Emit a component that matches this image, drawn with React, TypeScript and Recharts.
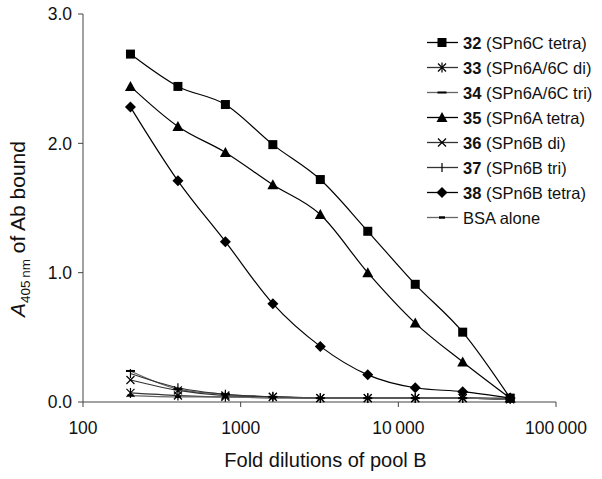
import React from 'react';
import { LineChart, Line, XAxis, YAxis, Label } from 'recharts';

const dilutions = [200, 400, 800, 1600, 3200, 6400, 12800, 25600, 51200];
const s32 = [2.69, 2.44, 2.3, 1.99, 1.72, 1.32, 0.91, 0.54, 0.03];
const s33 = [0.07, 0.05, 0.04, 0.04, 0.03, 0.03, 0.03, 0.03, 0.03];
const s34 = [0.24, 0.1, 0.06, 0.04, 0.03, 0.03, 0.03, 0.03, 0.02];
const s35 = [2.44, 2.13, 1.93, 1.68, 1.45, 1.0, 0.61, 0.31, 0.03];
const s36 = [0.17, 0.09, 0.05, 0.04, 0.03, 0.03, 0.03, 0.03, 0.02];
const s37 = [0.22, 0.11, 0.06, 0.04, 0.03, 0.03, 0.03, 0.03, 0.02];
const s38 = [2.28, 1.71, 1.24, 0.76, 0.43, 0.21, 0.11, 0.08, 0.03];
const sBSA = [0.05, 0.04, 0.04, 0.03, 0.03, 0.03, 0.03, 0.03, 0.02];
const xTicks = [100, 1000, 10000, 100000];
const yTicks = [0, 1, 2, 3];

const data = dilutions.map((d, i) => ({
  x: d, s32: s32[i], s33: s33[i], s34: s34[i], s35: s35[i],
  s36: s36[i], s37: s37[i], s38: s38[i], sBSA: sBSA[i],
}));

type Shape = 'square' | 'asterisk' | 'dash' | 'triangle' | 'cross' | 'plus' | 'diamond' | 'smalldash';

const marker = (shape: Shape, cx: number, cy: number, key?: any) => {
  const c = '#000';
  switch (shape) {
    case 'square':
      return <rect key={key} x={cx - 4.5} y={cy - 4.5} width={9} height={9} fill={c} />;
    case 'triangle':
      return <polygon key={key} points={`${cx},${cy - 5.5} ${cx + 5.5},${cy + 4.5} ${cx - 5.5},${cy + 4.5}`} fill={c} />;
    case 'diamond':
      return <polygon key={key} points={`${cx},${cy - 5.5} ${cx + 5.5},${cy} ${cx},${cy + 5.5} ${cx - 5.5},${cy}`} fill={c} />;
    case 'asterisk':
      return (
        <g key={key} stroke={c} strokeWidth={1.2}>
          <line x1={cx - 4} y1={cy - 4} x2={cx + 4} y2={cy + 4} />
          <line x1={cx - 4} y1={cy + 4} x2={cx + 4} y2={cy - 4} />
          <line x1={cx} y1={cy - 5} x2={cx} y2={cy + 5} />
        </g>
      );
    case 'cross':
      return (
        <g key={key} stroke={c} strokeWidth={1.2}>
          <line x1={cx - 4} y1={cy - 4} x2={cx + 4} y2={cy + 4} />
          <line x1={cx - 4} y1={cy + 4} x2={cx + 4} y2={cy - 4} />
        </g>
      );
    case 'plus':
      return (
        <g key={key} stroke={c} strokeWidth={1.2}>
          <line x1={cx} y1={cy - 4.5} x2={cx} y2={cy + 4.5} />
        </g>
      );
    case 'dash':
      return <rect key={key} x={cx - 4.5} y={cy - 1} width={9} height={2} fill={c} />;
    case 'smalldash':
      return <rect key={key} x={cx - 3} y={cy - 1.2} width={6} height={2.4} fill={c} />;
  }
  return null;
};

const series: { key: string; num: string; text: string; shape: Shape; stroke: string }[] = [
  { key: 's32', num: '32', text: ' (SPn6C tetra)', shape: 'square', stroke: '#000' },
  { key: 's33', num: '33', text: ' (SPn6A/6C di)', shape: 'asterisk', stroke: '#333' },
  { key: 's34', num: '34', text: ' (SPn6A/6C tri)', shape: 'dash', stroke: '#666' },
  { key: 's35', num: '35', text: ' (SPn6A tetra)', shape: 'triangle', stroke: '#000' },
  { key: 's36', num: '36', text: ' (SPn6B di)', shape: 'cross', stroke: '#333' },
  { key: 's37', num: '37', text: ' (SPn6B tri)', shape: 'plus', stroke: '#333' },
  { key: 's38', num: '38', text: ' (SPn6B tetra)', shape: 'diamond', stroke: '#000' },
  { key: 'sBSA', num: '', text: 'BSA alone', shape: 'smalldash', stroke: '#666' },
];

const font = '"Liberation Sans", Arial, sans-serif';

const LegendBox = () => (
  <svg width={182} height={205} style={{ display: 'block', position: 'absolute', left: 420, top: 30 }}>
    {series.map((s, i) => {
      const cy = 12.5 + i * 25;
      return (
        <g key={s.key}>
          <line x1={7} y1={cy} x2={38} y2={cy} stroke={s.stroke} strokeWidth={1.3} />
          {marker(s.shape, 22, cy)}
          <text x={43} y={cy + 6} fontFamily={font} fontSize={16.5} fill="#111">
            {s.num ? <tspan fontWeight="bold">{s.num}</tspan> : null}
            <tspan>{s.text}</tspan>
          </text>
        </g>
      );
    })}
  </svg>
);

const fmtX = (v: number) => {
  if (v >= 10000) return String(v).replace(/(\d)(?=(\d{3})+$)/g, '$1\u2009');
  return String(v);
};

const YLabel = () => (
  <text
    x={25}
    y={229}
    transform="rotate(-90, 25, 229)"
    textAnchor="middle"
    fontFamily={font}
    fontSize={21}
    fill="#111"
  >
    <tspan fontStyle="italic">A</tspan>
    <tspan fontSize={13.5} dy={5}>405{'\u2009'}nm</tspan>
    <tspan dy={-5}> of Ab bound</tspan>
  </text>
);

export default function App() {
  return (
    <div style={{ position: 'absolute', left: 0, top: 0, width: 602, height: 479, background: '#fff' }}>
      <LineChart
        width={602}
        height={479}
        data={data}
        margin={{ top: 14, right: 46, left: 0, bottom: 0 }}
      >
        <XAxis
          dataKey="x"
          type="number"
          scale="log"
          domain={[100, 100000]}
          ticks={xTicks}
          tickFormatter={fmtX}
          allowDataOverflow
          height={77}
          stroke="#444"
          tickSize={5}
          tickMargin={15}
          tick={{ fill: '#111', fontSize: 17.5, fontFamily: font }}
        >
          <Label
            value="Fold dilutions of pool B"
            position="insideBottom"
            offset={12}
            dx={6}
            style={{ fill: '#111', fontSize: 20, fontFamily: font }}
          />
        </XAxis>
        <YAxis
          type="number"
          domain={[0, 3]}
          ticks={yTicks}
          tickFormatter={(v: number) => v.toFixed(1)}
          width={83}
          stroke="#444"
          tickSize={5}
          tickMargin={6}
          tick={{ fill: '#111', fontSize: 17.5, fontFamily: font }}
          label={<YLabel />}
        />
        {series.map((s) => (
          <Line
            key={s.key}
            dataKey={s.key}
            type="monotone"
            stroke={s.stroke}
            strokeWidth={1.2}
            isAnimationActive={false}
            dot={(p: any) => marker(s.shape, p.cx, p.cy, `${s.key}-${p.index}`)}
            activeDot={false}
          />
        ))}
      </LineChart>
      <LegendBox />
    </div>
  );
}
